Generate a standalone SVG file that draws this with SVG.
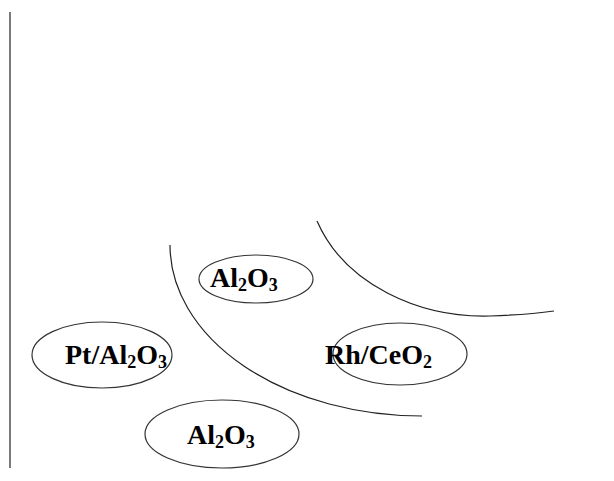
<svg xmlns="http://www.w3.org/2000/svg" width="614" height="481" viewBox="0 0 614 481">
<style>
.n ellipse{fill:none;stroke:#333;stroke-width:1.2}
.t{font-family:"Liberation Serif","Times New Roman",serif;font-weight:bold;font-size:28px;fill:#000}
.s{font-size:18px}
.c path,.c line{fill:none;stroke:#222;stroke-width:1.2}
</style>
<rect width="614" height="481" fill="#fff"/>
<g class="c" id="connectors">
<line x1="10" y1="12" x2="10" y2="468" stroke-width="1.6"/>
<path d="M170,245 A252,171 0 0,0 422,416"/>
<path d="M317,221 C345,285 420,318 490,316 C520,315 540,313 554,311"/>
</g>
<g class="n" id="pt-al2o3">
<ellipse cx="102" cy="355" rx="70" ry="33"/>
<text class="t" x="65" y="364">Pt/Al<tspan class="s" dy="4">2</tspan><tspan dy="-4">O</tspan><tspan class="s" dy="4">3</tspan></text>
</g>
<g class="n" id="al2o3-top">
<ellipse cx="256" cy="279" rx="57" ry="24"/>
<text class="t" x="210" y="287">Al<tspan class="s" dy="4">2</tspan><tspan dy="-4">O</tspan><tspan class="s" dy="4">3</tspan></text>
</g>
<g class="n" id="rh-ceo2">
<ellipse cx="400" cy="354" rx="67" ry="31"/>
<text class="t" x="325" y="364">Rh/CeO<tspan class="s" dy="4">2</tspan></text>
</g>
<g class="n" id="al2o3-bottom">
<ellipse cx="222" cy="434" rx="77" ry="34"/>
<text class="t" x="187" y="444">Al<tspan class="s" dy="4">2</tspan><tspan dy="-4">O</tspan><tspan class="s" dy="4">3</tspan></text>
</g>
</svg>
